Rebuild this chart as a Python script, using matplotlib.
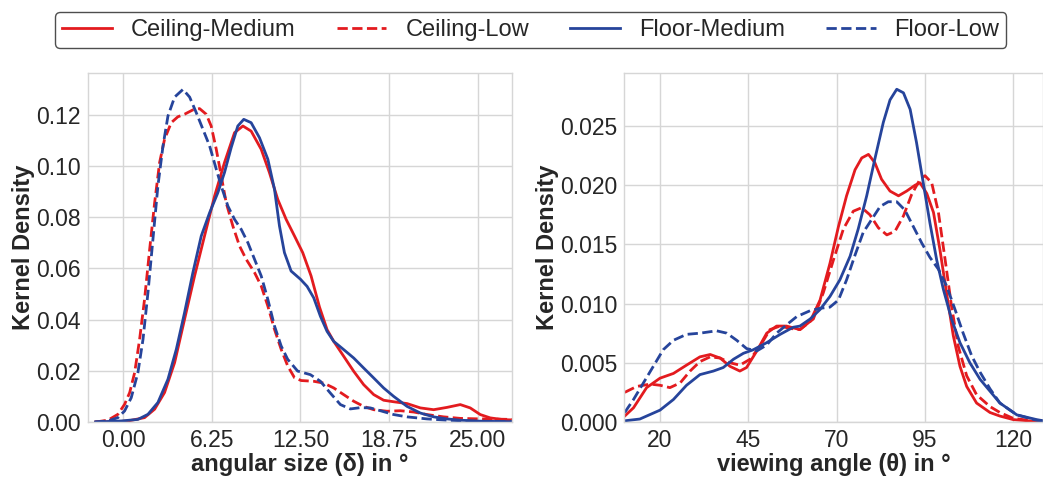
import matplotlib
matplotlib.use("Agg")
import matplotlib.pyplot as plt
from matplotlib.lines import Line2D

plt.rcParams["font.family"] = ["Liberation Sans", "DejaVu Sans"]

RED = "#e31b1f"
BLUE = "#26449b"
GRID = "#d6d6d6"
TEXT = "#262626"

series_names = ["Ceiling-Medium", "Ceiling-Low", "Floor-Medium", "Floor-Low"]

# ---- angular size (delta) density curves ----
size_ceiling_medium_x = [-1.95, -0.5, 0.33, 1.5, 2.21, 2.91, 3.62, 4.32, 5.03, 5.73, 6.44,
                         7.14, 7.85, 8.44, 9.02, 9.73, 10.31, 10.9, 11.49, 12.08, 12.66,
                         13.25, 13.84, 14.38, 14.85, 15.55, 16.26, 16.96, 17.67, 18.37,
                         19.08, 20.02, 20.96, 21.9, 22.84, 23.78, 24.48, 25.19, 25.89,
                         26.83, 27.5]
size_ceiling_medium_y = [0.0, 0.0001, 0.0004, 0.0017, 0.005, 0.0115, 0.0232, 0.0401, 0.0571,
                         0.0727, 0.0883, 0.1014, 0.1131, 0.1157, 0.1137, 0.1066, 0.0975,
                         0.087, 0.0792, 0.0727, 0.0662, 0.0571, 0.045, 0.0361, 0.0315,
                         0.0257, 0.0198, 0.0146, 0.0107, 0.0085, 0.0079, 0.0072, 0.0055,
                         0.0048, 0.0057, 0.0068, 0.0055, 0.0029, 0.0016, 0.0009, 0.0008]

size_ceiling_low_x = [-1.95, -1.08, -0.38, 0.09, 0.45, 0.8, 1.15, 1.5, 1.86, 2.21, 2.56,
                      2.91, 3.38, 3.85, 4.32, 4.91, 5.38, 5.85, 6.2, 6.56, 6.91, 7.26,
                      7.73, 8.2, 8.67, 9.26, 9.73, 10.2, 10.67, 11.14, 11.6, 12.08, 12.55,
                      13.44, 14.14, 14.85, 15.55, 16.26, 16.96, 17.67, 18.61, 19.55,
                      20.49, 21.43, 22.6, 23.78, 25.19, 27.5]
size_ceiling_low_y = [0.0, 0.0007, 0.003, 0.0069, 0.0115, 0.0193, 0.0323, 0.048, 0.0675,
                      0.0857, 0.1014, 0.1105, 0.117, 0.1193, 0.1203, 0.122, 0.1225,
                      0.1203, 0.1157, 0.1066, 0.0962, 0.0857, 0.0766, 0.0688, 0.0636,
                      0.0584, 0.0532, 0.0453, 0.0362, 0.0284, 0.0219, 0.0173, 0.0162,
                      0.0159, 0.0152, 0.0133, 0.0107, 0.0081, 0.0061, 0.0048, 0.0042,
                      0.0044, 0.0039, 0.0029, 0.002, 0.0014, 0.0012, 0.001]

size_floor_medium_x = [-1.95, -0.14, 1.03, 1.74, 2.44, 3.15, 3.74, 4.32, 4.91, 5.5, 6.09,
                       6.67, 7.14, 7.61, 8.08, 8.5, 9.02, 9.61, 10.2, 10.67, 11.02, 11.37,
                       11.84, 12.5, 12.97, 13.44, 13.91, 14.38, 14.85, 15.55, 16.26,
                       16.96, 17.67, 18.37, 19.08, 20.02, 20.96, 21.9, 22.84, 23.78,
                       25.19, 27.5]
size_floor_medium_y = [0.0, 0.0004, 0.001, 0.003, 0.0076, 0.0167, 0.0284, 0.0427, 0.0584,
                       0.0727, 0.0818, 0.0896, 0.0975, 0.1072, 0.1157, 0.1183, 0.117,
                       0.1111, 0.1027, 0.0909, 0.0766, 0.0662, 0.059, 0.0558, 0.053,
                       0.0485, 0.0413, 0.0354, 0.0315, 0.0283, 0.025, 0.0211, 0.0172,
                       0.0133, 0.01, 0.0061, 0.0035, 0.002, 0.0012, 0.0007, 0.0003, 0.0001]

size_floor_low_x = [-2.02, -1.08, -0.38, 0.09, 0.56, 1.03, 1.39, 1.74, 2.09, 2.44, 2.8,
                    3.15, 3.62, 4.21, 4.68, 5.15, 5.62, 6.09, 6.56, 6.91, 7.38, 7.85, 8.32,
                    8.79, 9.26, 9.73, 10.2, 10.67, 11.14, 11.6, 12.3, 13.2, 13.91, 14.61,
                    15.32, 16.02, 16.73, 17.43, 18.14, 19.08, 20.02, 21.43, 22.84, 24.72,
                    27.5]
size_floor_low_y = [0.0, 0.0004, 0.0017, 0.0043, 0.0095, 0.0193, 0.0323, 0.0506, 0.0714,
                    0.0922, 0.1079, 0.1196, 0.1270, 0.1300, 0.1270, 0.1209, 0.1144,
                    0.1079, 0.0988, 0.0922, 0.0844, 0.0792, 0.0753, 0.0701, 0.0636,
                    0.0571, 0.0479, 0.0375, 0.0297, 0.0245, 0.0199, 0.0185, 0.0159,
                    0.0113, 0.0068, 0.0051, 0.0056, 0.0055, 0.0044, 0.0029, 0.002,
                    0.0012, 0.0007, 0.0003, 0.0001]

# ---- viewing angle (theta) density curves ----
angle_ceiling_medium_x = [10.0, 12.5, 16.2, 20.0, 23.8, 27.5, 31.3, 34.2, 37.0, 39.8, 42.6,
                          44.5, 47.4, 50.2, 53.0, 55.8, 59.6, 62.5, 65.3, 68.1, 70.5, 72.8,
                          75.2, 77.1, 79.0, 80.8, 82.7, 85.1, 87.5, 89.8, 92.2, 93.6, 95.5,
                          97.4, 99.2, 101.1, 103.0, 104.9, 106.8, 109.6, 113.4, 116.2,
                          120.0, 128.5]
angle_ceiling_medium_y = [0.0005, 0.0012, 0.0029, 0.0037, 0.0041, 0.0048, 0.0055, 0.0057,
                          0.0054, 0.0047, 0.0043, 0.0046, 0.006, 0.0075, 0.0081, 0.0081,
                          0.0078, 0.0085, 0.0103, 0.0134, 0.0165, 0.0191, 0.0213, 0.0223,
                          0.0226, 0.0219, 0.0205, 0.0195, 0.0191, 0.0195, 0.020, 0.0202,
                          0.0193, 0.0177, 0.0146, 0.0109, 0.0073, 0.0047, 0.003, 0.0016,
                          0.0008, 0.0005, 0.0002, 0.0]

angle_ceiling_low_x = [10.0, 13.4, 17.2, 20.0, 22.8, 25.7, 28.5, 31.3, 34.2, 37.0, 39.8,
                       42.6, 45.5, 48.3, 51.1, 54.0, 56.8, 59.6, 63.4, 66.2, 69.1, 71.9,
                       74.7, 77.1, 79.4, 81.8, 84.2, 86.5, 88.9, 91.2, 93.6, 95.0, 96.9,
                       98.8, 100.7, 102.5, 104.4, 106.8, 109.6, 113.4, 116.2, 120.0, 128.5]
angle_ceiling_low_y = [0.0025, 0.003, 0.0032, 0.0031, 0.0029, 0.0033, 0.0043, 0.0051,
                       0.0055, 0.0054, 0.005, 0.0048, 0.0053, 0.0064, 0.0078, 0.0081,
                       0.0079, 0.0078, 0.0087, 0.0109, 0.0137, 0.0163, 0.0178, 0.0181,
                       0.0175, 0.0164, 0.0158, 0.0161, 0.0174, 0.0192, 0.0205, 0.0208,
                       0.0202, 0.0177, 0.0137, 0.0098, 0.0064, 0.0039, 0.0023, 0.0013,
                       0.0008, 0.0003, 0.0]

angle_floor_medium_x = [10.0, 14.3, 20.0, 23.8, 27.5, 31.3, 35.1, 37.9, 40.8, 43.6, 46.4,
                        50.2, 54.0, 57.7, 59.6, 62.5, 65.3, 68.1, 70.9, 73.8, 76.1, 78.5,
                        80.8, 83.2, 85.1, 87.0, 88.9, 90.8, 92.6, 94.5, 96.4, 98.3, 100.2,
                        102.5, 104.9, 107.7, 110.6, 113.4, 116.2, 121.0, 126.6, 128.5]
angle_floor_medium_y = [0.0001, 0.00025, 0.001, 0.0019, 0.0031, 0.004, 0.0043, 0.0046,
                        0.0053, 0.0058, 0.0061, 0.0067, 0.0074, 0.008, 0.0081, 0.0087,
                        0.0095, 0.0106, 0.012, 0.014, 0.0163, 0.0191, 0.0222, 0.0253,
                        0.0272, 0.0281, 0.0278, 0.0264, 0.0236, 0.0202, 0.0168, 0.0137,
                        0.0112, 0.0087, 0.0067, 0.005, 0.0036, 0.0026, 0.0016, 0.0006,
                        0.0002, 0.0001]

angle_floor_low_x = [10.0, 12.5, 15.3, 18.1, 20.9, 23.8, 27.5, 31.3, 36.0, 38.9, 41.7,
                     44.5, 47.4, 50.2, 53.0, 55.8, 58.7, 62.5, 65.3, 68.1, 70.5, 72.8,
                     75.2, 77.5, 79.9, 82.3, 84.6, 87.0, 89.3, 91.7, 94.1, 96.4, 98.8,
                     101.1, 103.5, 105.8, 108.2, 110.6, 113.4, 116.2, 121.0, 126.6, 128.5]
angle_floor_low_y = [0.0008, 0.0019, 0.0033, 0.0047, 0.0061, 0.0069, 0.0074, 0.0075,
                     0.0077, 0.0075, 0.0069, 0.0062, 0.006, 0.0065, 0.0075, 0.0082, 0.0089,
                     0.0094, 0.0096, 0.0097, 0.0103, 0.012, 0.0141, 0.016, 0.0171, 0.0182,
                     0.0186, 0.0186, 0.0179, 0.0165, 0.0151, 0.0139, 0.0129, 0.0115,
                     0.0095, 0.0075, 0.0056, 0.0042, 0.0028, 0.0016, 0.0006, 0.00014,
                     0.0001]

size_ticks = [0.0, 6.25, 12.5, 18.75, 25.0]
size_yticks = [0.00, 0.02, 0.04, 0.06, 0.08, 0.10, 0.12]
angle_ticks = [20, 45, 70, 95, 120]
angle_yticks = [0.000, 0.005, 0.010, 0.015, 0.020, 0.025]

styles = [(RED, "-"), (RED, "--"), (BLUE, "-"), (BLUE, "--")]
LW = 2.0

fig = plt.figure(figsize=(10.43, 4.78), dpi=100)
ax1 = fig.add_axes([0.0844, 0.1172, 0.4065, 0.730])
ax2 = fig.add_axes([0.5986, 0.1172, 0.4014, 0.730])

size_curves = [(size_ceiling_medium_x, size_ceiling_medium_y),
               (size_ceiling_low_x, size_ceiling_low_y),
               (size_floor_medium_x, size_floor_medium_y),
               (size_floor_low_x, size_floor_low_y)]
angle_curves = [(angle_ceiling_medium_x, angle_ceiling_medium_y),
                (angle_ceiling_low_x, angle_ceiling_low_y),
                (angle_floor_medium_x, angle_floor_medium_y),
                (angle_floor_low_x, angle_floor_low_y)]

for (xs, ys), (c, ls) in zip(size_curves, styles):
    ax1.plot(xs, ys, color=c, ls=ls, lw=LW, solid_joinstyle="round")
for (xs, ys), (c, ls) in zip(angle_curves, styles):
    ax2.plot(xs, ys, color=c, ls=ls, lw=LW, solid_joinstyle="round")


def style_axes(ax, xticks, yticks, xfmt, yfmt, xlabel):
    ax.set_facecolor("white")
    ax.grid(True, color=GRID, lw=1.0)
    ax.set_axisbelow(True)
    for sp in ax.spines.values():
        sp.set_color(GRID)
        sp.set_linewidth(1.0)
    ax.set_xticks(xticks)
    ax.set_yticks(yticks)
    ax.set_xticklabels([xfmt.format(t) for t in xticks])
    ax.set_yticklabels([yfmt.format(t) for t in yticks])
    ax.tick_params(length=0, labelsize=16.5, colors=TEXT, pad=5)
    ax.set_xlabel(xlabel, fontsize=17, fontweight="bold", color=TEXT, labelpad=1)
    ax.set_ylabel("Kernel Density", fontsize=17, fontweight="bold", color=TEXT, labelpad=1)


style_axes(ax1, size_ticks, size_yticks, "{:.2f}", "{:.2f}", "angular size (δ) in °")
ax1.set_xlim(-2.49, 27.43)
ax1.set_ylim(0, 0.1364)

style_axes(ax2, angle_ticks, angle_yticks, "{:d}", "{:.3f}", "viewing angle (θ) in °")
ax2.set_xlim(9.9, 128.4)
ax2.set_ylim(0, 0.02947)

handles = [Line2D([], [], color=c, ls=ls, lw=LW) for c, ls in styles]
leg = fig.legend(handles, series_names, loc="center", bbox_to_anchor=(0.509, 0.937),
                 ncol=4, fontsize=17, frameon=True, fancybox=True,
                 handlelength=2.1, handletextpad=0.8, columnspacing=1.75,
                 borderpad=0.3, edgecolor="#222222")
leg.get_frame().set_linewidth(1.0)
for t in leg.get_texts():
    t.set_color(TEXT)

fig.savefig("out.png", dpi=100)
